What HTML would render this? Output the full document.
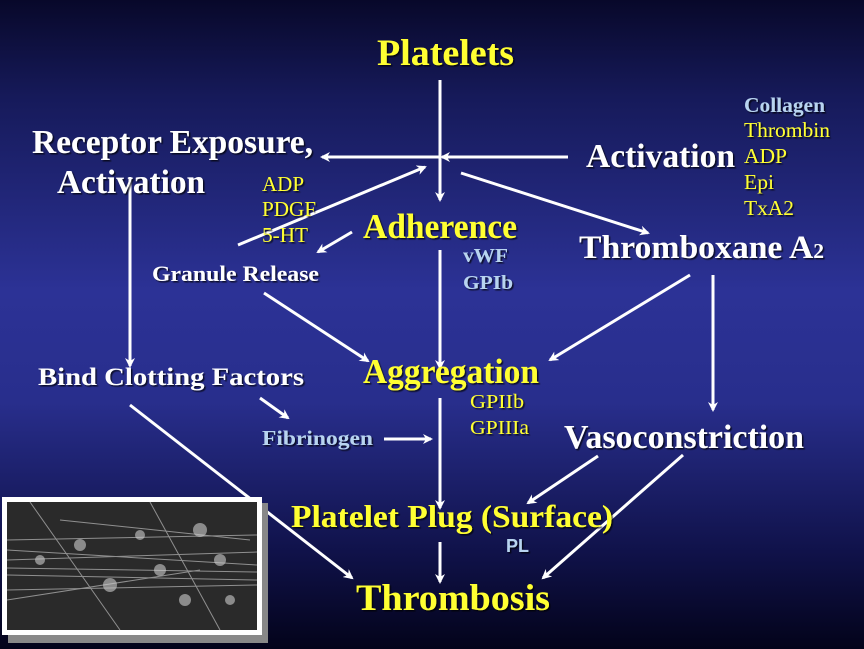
<!DOCTYPE html>
<html><head><meta charset="utf-8"><style>
html,body{margin:0;padding:0;width:864px;height:649px;overflow:hidden;}
svg{display:block;}
text{font-family:"Liberation Serif",serif;}
.b{font-weight:bold;}
.y{fill:#ffff33;}
.w{fill:#ffffff;}
.lb{fill:#b8d4f0;}
</style></head><body>
<svg width="864" height="649" viewBox="0 0 864 649" xmlns="http://www.w3.org/2000/svg">
<defs>
<linearGradient id="bg" x1="0" y1="0" x2="0" y2="1">
<stop offset="0" stop-color="#08082a"/>
<stop offset="0.15" stop-color="#161a5a"/>
<stop offset="0.45" stop-color="#2c3296"/>
<stop offset="0.62" stop-color="#282e8c"/>
<stop offset="0.85" stop-color="#10124a"/>
<stop offset="1" stop-color="#03031a"/>
</linearGradient>
<marker id="a" markerWidth="10" markerHeight="10" refX="8" refY="5" orient="auto" markerUnits="userSpaceOnUse">
<path d="M0,0 L10,5 L0,10 L3,5 z" fill="#fff"/>
</marker>
<filter id="sh"><feDropShadow dx="1.5" dy="1.5" stdDeviation="0.5" flood-color="#000" flood-opacity="0.7"/></filter>
</defs>
<rect width="864" height="649" fill="url(#bg)"/>
<g stroke="#fff" stroke-width="3" fill="none" marker-end="url(#a)">
<line x1="440" y1="80" x2="440" y2="200"/>
<line x1="568" y1="157" x2="442" y2="157"/>
<line x1="440" y1="157" x2="322" y2="157"/>
<line x1="238" y1="245" x2="425" y2="167"/>
<line x1="352" y1="232" x2="318" y2="252"/>
<line x1="461" y1="173" x2="648" y2="233"/>
<line x1="440" y1="250" x2="440" y2="368"/>
<line x1="130" y1="177" x2="130" y2="366"/>
<line x1="264" y1="293" x2="368" y2="361"/>
<line x1="690" y1="275" x2="550" y2="360"/>
<line x1="713" y1="275" x2="713" y2="410"/>
<line x1="260" y1="398" x2="288" y2="418"/>
<line x1="384" y1="439" x2="431" y2="439"/>
<line x1="440" y1="398" x2="440" y2="508"/>
<line x1="598" y1="456" x2="528" y2="503"/>
<line x1="683" y1="455" x2="543" y2="578"/>
<line x1="130" y1="405" x2="352" y2="578"/>
<line x1="440" y1="542" x2="440" y2="582"/>
</g>
<rect x="8" y="503" width="260" height="140" fill="#888"/>
<rect x="2" y="497" width="260" height="138" fill="#fff"/>
<rect x="7" y="502" width="250" height="128" fill="#2a2a2a"/>
<g stroke="#bbb" stroke-width="1" opacity="0.7">
<line x1="7" y1="540" x2="257" y2="535"/><line x1="7" y1="560" x2="257" y2="552"/>
<line x1="7" y1="575" x2="257" y2="580"/><line x1="7" y1="590" x2="257" y2="585"/>
<line x1="30" y1="502" x2="120" y2="630"/><line x1="7" y1="550" x2="257" y2="565"/>
<line x1="60" y1="520" x2="250" y2="540"/><line x1="7" y1="600" x2="200" y2="570"/>
<line x1="150" y1="502" x2="220" y2="630"/><line x1="7" y1="568" x2="257" y2="572"/>
</g>
<g fill="#ccc" opacity="0.6">
<circle cx="80" cy="545" r="6"/><circle cx="140" cy="535" r="5"/><circle cx="200" cy="530" r="7"/>
<circle cx="220" cy="560" r="6"/><circle cx="110" cy="585" r="7"/><circle cx="185" cy="600" r="6"/>
<circle cx="40" cy="560" r="5"/><circle cx="230" cy="600" r="5"/><circle cx="160" cy="570" r="6"/>
</g>
<g filter="url(#sh)">
<text x="377" y="65" class="b y" font-size="37" textLength="137" lengthAdjust="spacingAndGlyphs">Platelets</text>
<text x="32" y="153" class="b w" font-size="34" textLength="281" lengthAdjust="spacingAndGlyphs">Receptor Exposure,</text>
<text x="57" y="193" class="b w" font-size="34" textLength="148" lengthAdjust="spacingAndGlyphs">Activation</text>
<text x="586" y="167" class="b w" font-size="34" textLength="149" lengthAdjust="spacingAndGlyphs">Activation</text>
<text x="744" y="112" class="b lb" font-size="21" textLength="81" lengthAdjust="spacingAndGlyphs">Collagen</text>
<text x="744" y="137" class="y" font-size="21" textLength="86" lengthAdjust="spacingAndGlyphs">Thrombin</text>
<text x="744" y="163" class="y" font-size="21" textLength="43" lengthAdjust="spacingAndGlyphs">ADP</text>
<text x="744" y="189" class="y" font-size="21" textLength="30" lengthAdjust="spacingAndGlyphs">Epi</text>
<text x="744" y="215" class="y" font-size="21" textLength="50" lengthAdjust="spacingAndGlyphs">TxA2</text>
<text x="262" y="191" class="y" font-size="21" textLength="42" lengthAdjust="spacingAndGlyphs">ADP</text>
<text x="262" y="216" class="y" font-size="21" textLength="54" lengthAdjust="spacingAndGlyphs">PDGF</text>
<text x="262" y="242" class="y" font-size="21" textLength="46" lengthAdjust="spacingAndGlyphs">5-HT</text>
<text x="363" y="238" class="b y" font-size="35" textLength="154" lengthAdjust="spacingAndGlyphs">Adherence</text>
<text x="463" y="262" class="b lb" font-size="20" textLength="45" lengthAdjust="spacingAndGlyphs">vWF</text>
<text x="463" y="289" class="b lb" font-size="20" textLength="50" lengthAdjust="spacingAndGlyphs">GPIb</text>
<text x="152" y="281" class="b w" font-size="22" textLength="167" lengthAdjust="spacingAndGlyphs">Granule Release</text>
<text x="579" y="258" class="b w" font-size="33" textLength="245" lengthAdjust="spacingAndGlyphs">Thromboxane A<tspan font-size="21">2</tspan></text>
<text x="38" y="385" class="b w" font-size="25" textLength="266" lengthAdjust="spacingAndGlyphs">Bind Clotting Factors</text>
<text x="363" y="383" class="b y" font-size="35" textLength="176" lengthAdjust="spacingAndGlyphs">Aggregation</text>
<text x="470" y="408" class="y" font-size="20" textLength="54" lengthAdjust="spacingAndGlyphs">GPIIb</text>
<text x="470" y="434" class="y" font-size="20" textLength="59" lengthAdjust="spacingAndGlyphs">GPIIIa</text>
<text x="262" y="445" class="b lb" font-size="21" textLength="111" lengthAdjust="spacingAndGlyphs">Fibrinogen</text>
<text x="564" y="448" class="b w" font-size="34" textLength="240" lengthAdjust="spacingAndGlyphs">Vasoconstriction</text>
<text x="291" y="527" class="b y" font-size="32" textLength="322" lengthAdjust="spacingAndGlyphs">Platelet Plug (Surface)</text>
<text x="506" y="552" class="b lb" font-size="18" style="font-family:'Liberation Sans',sans-serif">PL</text>
<text x="356" y="610" class="b y" font-size="37" textLength="194" lengthAdjust="spacingAndGlyphs">Thrombosis</text>
</g>
</svg>
</body></html>
